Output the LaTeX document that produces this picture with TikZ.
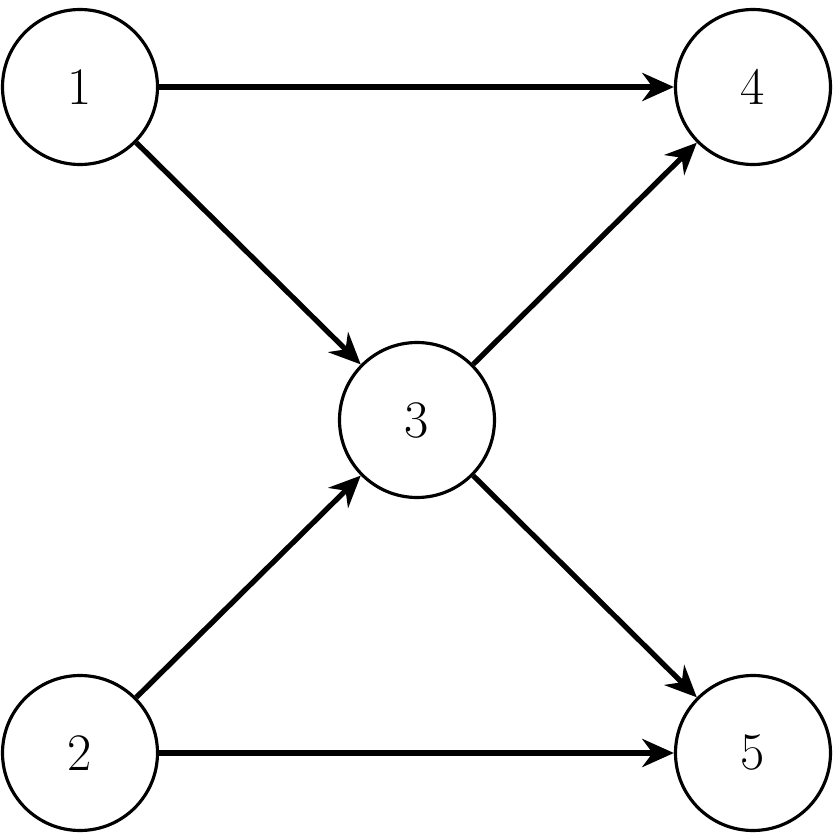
\documentclass[tikz,border=0pt]{standalone}
\usetikzlibrary{arrows.meta}
\begin{document}
\begin{tikzpicture}[
    vertex/.style={draw, circle, line width=0.9pt, minimum size=1.55cm, inner sep=0pt, font=\fontsize{15}{18}\selectfont},
    edge/.style={-{Stealth[length=9pt,width=8pt]}, line width=1.5pt}
]
    \useasboundingbox (0,0) rectangle (8.33,8.33);
    % Vertices
    \node[vertex] (one) at (0.80,7.46) {1};
    \node[vertex] (four) at (7.53,7.46) {4};
    \node[vertex] (three) at (4.17,4.13) {3};
    \node[vertex] (two) at (0.80,0.80) {2};
    \node[vertex] (five) at (7.53,0.80) {5};

    % Edges
    \draw[edge] (one) -- (four);
    \draw[edge] (one) -- (three);
    \draw[edge] (three) -- (four);
    \draw[edge] (two) -- (three);
    \draw[edge] (three) -- (five);
    \draw[edge] (two) -- (five);
\end{tikzpicture}
\end{document}
